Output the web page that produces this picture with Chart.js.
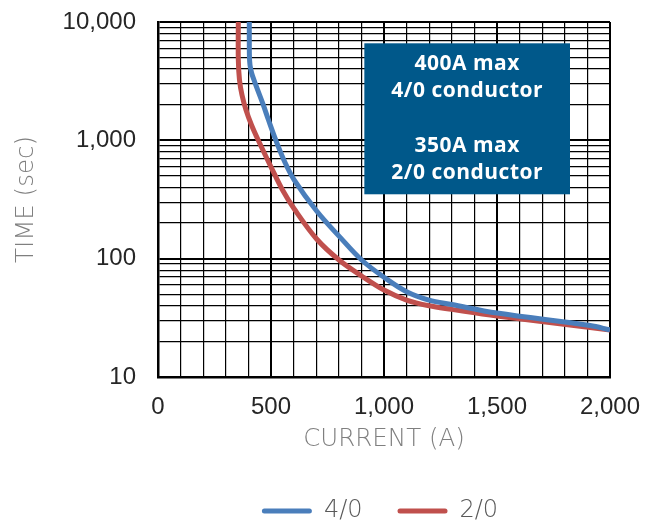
<!DOCTYPE html>
<html>
<head>
<meta charset="utf-8">
<script src="https://cdn.jsdelivr.net/npm/chart.js@4.4.0/dist/chart.umd.min.js"></script>
<style>
  html, body { margin: 0; padding: 0; background: #ffffff; }
  #wrap { width: 651px; height: 523px; }
</style>
</head>
<body>
<div id="wrap"><canvas id="c" width="651" height="523"></canvas></div>
<script>
// ---- data ----
const seriesNames = ['4/0', '2/0'];
const current40 = [404, 404.4, 407.1, 414.2, 424.8, 436.7, 465.9, 488.9, 522.1, 562, 603, 702, 805, 901, 1000, 1100, 1199, 1300, 1500, 1912, 2000];
const time40    = [10000, 5261, 4332, 3707, 3236, 2797, 1990, 1485, 993, 650, 462, 253, 152, 97.4, 69.6, 52.6, 44.7, 41.0, 34.7, 27.2, 25];
const current20 = [355.3, 355.4, 360.6, 371.7, 389.4, 413.7, 444.7, 503, 551, 603, 702, 801, 901, 1000, 1100, 1199, 1300, 1500, 1912, 2000];
const time20    = [10000, 4772, 3236, 2415, 1804, 1348, 992, 580, 380, 263, 146.6, 97.4, 71.4, 54.3, 44.7, 40.0, 37.3, 32.8, 26.2, 25];
const xTickLabels = [0, 500, 1000, 1500, 2000];
const yTickLabels = [10, 100, 1000, 10000];
const xMinorStep = 100;
const noteLines = ['400A max', '4/0 conductor', '', '350A max', '2/0 conductor'];
const noteRange = { x: [913, 1823], y: [350, 6607] };

// ---- styles ----
const colors = ['#4A7EBB', '#C0504D'];
const tickFont = { family: '"Liberation Sans", Arial, sans-serif', size: 24 };
const titleFont = { family: '"DejaVu Sans", sans-serif', size: 24.5, weight: 200 };

// grid positions built from tick labels
const xGrid = [];
for (let v = xTickLabels[0]; v <= xTickLabels[xTickLabels.length - 1]; v += xMinorStep) xGrid.push(v);
const yGrid = [];
for (let i = 0; i < yTickLabels.length - 1; i++) {
  for (let m = 1; m <= 9; m++) yGrid.push(yTickLabels[i] * m);
}
yGrid.push(yTickLabels[yTickLabels.length - 1]);

const toPoints = (xs, ys) => xs.map((x, i) => ({ x: x, y: ys[i] }));

const notePlugin = {
  id: 'note',
  afterDatasetsDraw(chart) {
    const { ctx, scales: { x, y } } = chart;
    const l = x.getPixelForValue(noteRange.x[0]);
    const r = x.getPixelForValue(noteRange.x[1]);
    const t = y.getPixelForValue(noteRange.y[1]);
    const b = y.getPixelForValue(noteRange.y[0]);
    ctx.save();
    ctx.fillStyle = '#00588A';
    ctx.fillRect(l, t, r - l, b - t);
    ctx.fillStyle = '#ffffff';
    ctx.font = 'bold 21px "Open Sans", sans-serif';
    try { ctx.letterSpacing = '0.5px'; } catch (e) {}
    ctx.textAlign = 'center';
    ctx.textBaseline = 'middle';
    const step = 27.3;
    const cx = (l + r) / 2, cy = (t + b) / 2;
    const n = noteLines.length;
    noteLines.forEach((s, i) => {
      if (s) ctx.fillText(s, cx, cy + (i - (n - 1) / 2) * step);
    });
    ctx.restore();
  }
};

const legendShift = {
  id: 'legendShift',
  afterLayout(chart) {
    const lg = chart.legend, ca = chart.chartArea;
    if (!lg) return;
    const d = (ca.left + ca.right) / 2 - 4 - (lg.left + lg.right) / 2;
    lg.left += d; lg.right += d;
  }
};

new Chart(document.getElementById('c'), {
  type: 'line',
  data: {
    datasets: [
      { label: seriesNames[0], data: toPoints(current40, time40), borderColor: colors[0], backgroundColor: colors[0],
        borderWidth: 5, pointRadius: 0, tension: 0.35, fill: false },
      { label: seriesNames[1], data: toPoints(current20, time20), borderColor: colors[1], backgroundColor: colors[1],
        borderWidth: 5, pointRadius: 0, tension: 0.35, fill: false }
    ]
  },
  options: {
    responsive: false,
    animation: false,
    devicePixelRatio: 1,
    layout: { padding: { left: 0, right: 41, top: 22, bottom: 0 } },
    plugins: {
      tooltip: { enabled: false },
      legend: {
        position: 'bottom',
        maxHeight: 59,
        labels: {
          boxWidth: 50, boxHeight: 5, padding: 35,
          useBorderRadius: true, borderRadius: 2.5,
          color: '#595959',
          font: { family: '"DejaVu Sans", sans-serif', size: 24, weight: 200 },
          generateLabels(chart) {
            return Chart.defaults.plugins.legend.labels.generateLabels(chart).map(it => {
              it.lineWidth = 0;
              return it;
            });
          }
        }
      }
    },
    scales: {
      x: {
        type: 'linear',
        min: xTickLabels[0], max: xTickLabels[xTickLabels.length - 1],
        afterBuildTicks(scale) { scale.ticks = xGrid.map(v => ({ value: v })); },
        afterFit(scale) { scale.height = 87; },
        ticks: {
          autoSkip: false, maxRotation: 0, padding: 0,
          color: '#262626', font: tickFont,
          callback: v => xTickLabels.includes(v) ? v.toLocaleString('en-US') : ''
        },
        grid: {
          color: '#000000', drawTicks: true, tickLength: 16, tickColor: 'rgba(0,0,0,0)',
          lineWidth: c => (c.tick && xTickLabels.includes(c.tick.value)) ? 2 : 1.2
        },
        border: { color: '#000000', width: 2.5 },
        title: { display: true, text: 'CURRENT (A)', color: '#7F7F7F', font: titleFont, padding: { top: 0, bottom: 10 } }
      },
      y: {
        type: 'logarithmic',
        min: yTickLabels[0], max: yTickLabels[yTickLabels.length - 1],
        afterBuildTicks(scale) { scale.ticks = yGrid.map(v => ({ value: v })); },
        afterFit(scale) { scale.width = 158; },
        ticks: {
          autoSkip: false, padding: 0,
          color: '#262626', font: tickFont,
          callback: v => yTickLabels.includes(v) ? v.toLocaleString('en-US') : ''
        },
        grid: {
          color: '#000000', drawTicks: true, tickLength: 22, tickColor: 'rgba(0,0,0,0)',
          lineWidth: c => (c.tick && yTickLabels.includes(c.tick.value)) ? 2 : 1.2
        },
        border: { color: '#000000', width: 2.5 },
        title: { display: true, text: 'TIME (sec)', color: '#7F7F7F', font: titleFont, padding: { top: 12, bottom: 0 } }
      }
    }
  },
  plugins: [notePlugin, legendShift]
});
</script>
</body>
</html>
